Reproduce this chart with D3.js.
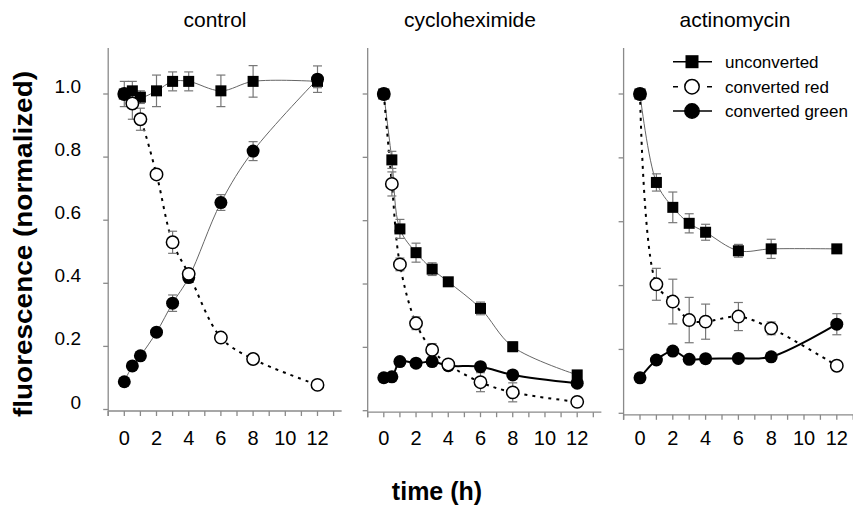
<!DOCTYPE html>
<html>
<head>
<meta charset="utf-8">
<script src="https://cdn.jsdelivr.net/npm/d3@7"></script>
<style>
  body { margin: 0; background: #fff; }
  svg { display: block; font-family: Arial, "Liberation Sans", sans-serif; }
</style>
</head>
<body>
<svg id="chart" width="853" height="506"></svg>
<script>
// time points (h)
const timesFull = [0, 0.5, 1, 2, 3, 4, 6, 8, 12]
const timesActino = [0, 1, 2, 3, 4, 6, 8, 12]

const panelTitles = ["control", "cycloheximide", "actinomycin"]
const seriesNames = ["unconverted", "converted red", "converted green"]
const xTickValues = [0, 2, 4, 6, 8, 10, 12]
const yTickValues = [0, 0.2, 0.4, 0.6, 0.8, 1.0]
const yTickLabels = ["0", "0.2", "0.4", "0.6", "0.8", "1.0"]

// control
const ctrlUnconv = [1.00, 1.01, 0.99, 1.01, 1.04, 1.04, 1.01, 1.04, 1.04]
const ctrlUnconvErr = [0.04, 0.03, 0.02, 0.05, 0.03, 0.03, 0.05, 0.05, 0.02]
const ctrlRed = [1.00, 0.97, 0.92, 0.745, 0.53, 0.43, 0.228, 0.16, 0.078]
const ctrlRedErr = [0, 0.05, 0.035, 0.01, 0.035, 0.01, 0.01, 0.01, 0.01]
const ctrlGreen = [0.088, 0.138, 0.17, 0.245, 0.337, 0.418, 0.656, 0.819, 1.047]
const ctrlGreenErr = [0.01, 0.01, 0.01, 0.01, 0.026, 0.01, 0.025, 0.03, 0.042]

// cycloheximide
const cycloUnconv = [1.00, 0.792, 0.574, 0.499, 0.447, 0.407, 0.323, 0.202, 0.113]
const cycloUnconvErr = [0.01, 0.027, 0.03, 0.03, 0.02, 0.01, 0.02, 0.015, 0.01]
const cycloRed = [1.00, 0.716, 0.462, 0.276, 0.192, 0.146, 0.09, 0.058, 0.028]
const cycloRedErr = [0.01, 0.038, 0.02, 0.02, 0.02, 0.01, 0.03, 0.03, 0.01]
const cycloGreen = [0.104, 0.107, 0.155, 0.15, 0.155, 0.142, 0.139, 0.113, 0.087]
const cycloGreenErr = [0.01, 0.01, 0.01, 0.01, 0.01, 0.01, 0.01, 0.01, 0.01]

// actinomycin
const actinoUnconv = [1.00, 0.723, 0.645, 0.595, 0.567, 0.509, 0.515, 0.515]
const actinoUnconvErr = [0.01, 0.027, 0.048, 0.03, 0.025, 0.02, 0.03, 0.01]
const actinoRed = [1.00, 0.404, 0.35, 0.292, 0.287, 0.303, 0.266, 0.149]
const actinoRedErr = [0.01, 0.05, 0.07, 0.071, 0.055, 0.044, 0.02, 0.01]
const actinoGreen = [0.111, 0.167, 0.195, 0.169, 0.171, 0.172, 0.177, 0.279]
const actinoGreenErr = [0.01, 0.01, 0.01, 0.01, 0.01, 0.01, 0.01, 0.033]

const zip = (t, v, e) => t.map((x, i) => ({ t: x, v: v[i], e: e[i], i: i }))

// layout of the three panels (pixel position of t=0, t=12, y=0, y=1)
const panels = [
    { title: panelTitles[0], x0: 124.3, x12: 317.5, y0: 409.5, y1: 94, titleX: 215, greenThin: true,
      unconv: zip(timesFull, ctrlUnconv, ctrlUnconvErr),
      red: zip(timesFull, ctrlRed, ctrlRedErr), green: zip(timesFull, ctrlGreen, ctrlGreenErr) },
    { title: panelTitles[1], x0: 383.8, x12: 577.2, y0: 410.7, y1: 94, titleX: 470, greenThin: false,
      unconv: zip(timesFull, cycloUnconv, cycloUnconvErr),
      red: zip(timesFull, cycloRed, cycloRedErr), green: zip(timesFull, cycloGreen, cycloGreenErr) },
    { title: panelTitles[2], x0: 640, x12: 836.8, y0: 413.3, y1: 94, titleX: 735, greenThin: false,
      unconv: zip(timesActino, actinoUnconv, actinoUnconvErr),
      red: zip(timesActino, actinoRed, actinoRedErr), green: zip(timesActino, actinoGreen, actinoGreenErr) }
]

const svg = d3.select("#chart")
const axisColor = "#8a8a8a"
const errColor = "#777"

panels.forEach((p, pi) => {
    const x = d3.scaleLinear().domain([0, 12]).range([p.x0, p.x12])
    const y = d3.scaleLinear().domain([0, 1]).range([p.y0, p.y1])
    const g = svg.append("g")

    const axisLeft = x(-1)
    const axisY = y(0) + 1.5

    // y axis
    g.append("line")
        .attr("x1", axisLeft).attr("x2", axisLeft)
        .attr("y1", 48).attr("y2", axisY + 5)
        .attr("stroke", axisColor).attr("stroke-width", 1.3)
    g.selectAll(".ytick").data(yTickValues).join("line")
        .attr("x1", axisLeft - 5).attr("x2", axisLeft)
        .attr("y1", d => y(d)).attr("y2", d => y(d))
        .attr("stroke", axisColor).attr("stroke-width", 1.3)

    if (pi === 0) {
        g.selectAll(".ylab").data(yTickValues).join("text")
            .attr("x", 81).attr("y", d => y(d) - 1)
            .attr("text-anchor", "end")
            .attr("font-size", 19)
            .text((d, i) => yTickLabels[i])
    }

    // x axis
    const hours = d3.range(-1, 14)
    g.append("line")
        .attr("x1", axisLeft).attr("x2", Math.min(x(13.5), 853))
        .attr("y1", axisY).attr("y2", axisY)
        .attr("stroke", axisColor).attr("stroke-width", 1.3)
    g.selectAll(".xtick").data(hours).join("line")
        .attr("x1", d => x(d)).attr("x2", d => x(d))
        .attr("y1", axisY).attr("y2", axisY + 5)
        .attr("stroke", axisColor).attr("stroke-width", 1.3)
    g.selectAll(".xlab").data(xTickValues).join("text")
        .attr("x", d => x(d)).attr("y", 445)
        .attr("text-anchor", "middle")
        .attr("font-size", 20)
        .text(d => d)

    // title
    g.append("text")
        .attr("x", p.titleX).attr("y", 27)
        .attr("text-anchor", "middle")
        .attr("font-size", 21)
        .text(p.title)

    const line = d3.line().x(d => x(d.t)).y(d => y(d.v)).curve(d3.curveCatmullRom)

    // lines
    g.append("path").datum(p.unconv).attr("d", line)
        .attr("fill", "none").attr("stroke", "#666").attr("stroke-width", 1)
    g.append("path").datum(p.red).attr("d", line)
        .attr("fill", "none").attr("stroke", "#000").attr("stroke-width", 2)
        .attr("stroke-dasharray", "3,5")
    g.append("path").datum(p.green).attr("d", line)
        .attr("fill", "none")
        .attr("stroke", p.greenThin ? "#666" : "#000")
        .attr("stroke-width", p.greenThin ? 1 : 2)

    // error bars
    const drawErr = (data) => {
        const eg = g.append("g").attr("stroke", errColor).attr("stroke-width", 1.2)
        const ed = data.filter(d => d.e > 0.012)
        eg.selectAll(".ev").data(ed).join("line")
            .attr("x1", d => x(d.t)).attr("x2", d => x(d.t))
            .attr("y1", d => y(d.v - d.e)).attr("y2", d => y(d.v + d.e))
        eg.selectAll(".et").data(ed).join("line")
            .attr("x1", d => x(d.t) - 4.5).attr("x2", d => x(d.t) + 4.5)
            .attr("y1", d => y(d.v + d.e)).attr("y2", d => y(d.v + d.e))
        eg.selectAll(".eb").data(ed).join("line")
            .attr("x1", d => x(d.t) - 4.5).attr("x2", d => x(d.t) + 4.5)
            .attr("y1", d => y(d.v - d.e)).attr("y2", d => y(d.v - d.e))
    }
    drawErr(p.unconv)
    drawErr(p.red)
    drawErr(p.green)

    // markers
    g.selectAll(".sq").data(p.unconv).join("rect")
        .attr("x", d => x(d.t) - 5.5).attr("y", d => y(d.v) - 5.5)
        .attr("width", 11).attr("height", 11)
        .attr("fill", "#000")
    g.selectAll(".fc").data(p.green).join("circle")
        .attr("cx", d => x(d.t)).attr("cy", d => y(d.v))
        .attr("r", 6.5)
        .attr("fill", "#000")
    // at t=0 the overlapping markers print as a filled dot
    g.selectAll(".oc").data(p.red).join("circle")
        .attr("cx", d => x(d.t)).attr("cy", d => y(d.v))
        .attr("r", 6.2)
        .attr("fill", d => d.i === 0 ? "#000" : "#fff")
        .attr("stroke", "#000").attr("stroke-width", 1.5)
})

// legend
const legendRows = [61.7, 86.7, 111]
const lg = svg.append("g")
seriesNames.forEach((name, i) => {
    const cy = legendRows[i]
    const ln = lg.append("line")
        .attr("x1", 673).attr("x2", 712)
        .attr("y1", cy).attr("y2", cy)
        .attr("stroke", "#000").attr("stroke-width", 1.5)
    if (i === 1) ln.attr("stroke-dasharray", "5,29")
    if (i === 0) {
        lg.append("rect").attr("x", 685.5).attr("y", cy - 6.5)
            .attr("width", 13).attr("height", 13).attr("fill", "#000")
    } else {
        lg.append("circle").attr("cx", 692).attr("cy", cy).attr("r", 7.2)
            .attr("fill", i === 1 ? "#fff" : "#000")
            .attr("stroke", "#000").attr("stroke-width", 1.5)
    }
    lg.append("text").attr("x", 725).attr("y", cy + 6)
        .attr("font-size", 17)
        .text(name)
})

// axis titles
svg.append("text")
    .attr("transform", "translate(32,244) rotate(-90)")
    .attr("text-anchor", "middle")
    .attr("font-size", 25).attr("font-weight", "bold")
    .attr("textLength", 346).attr("lengthAdjust", "spacingAndGlyphs")
    .text("fluorescence (normalized)")

svg.append("text")
    .attr("x", 437).attr("y", 500)
    .attr("text-anchor", "middle")
    .attr("font-size", 25).attr("font-weight", "bold")
    .text("time (h)")
</script>
</body>
</html>
